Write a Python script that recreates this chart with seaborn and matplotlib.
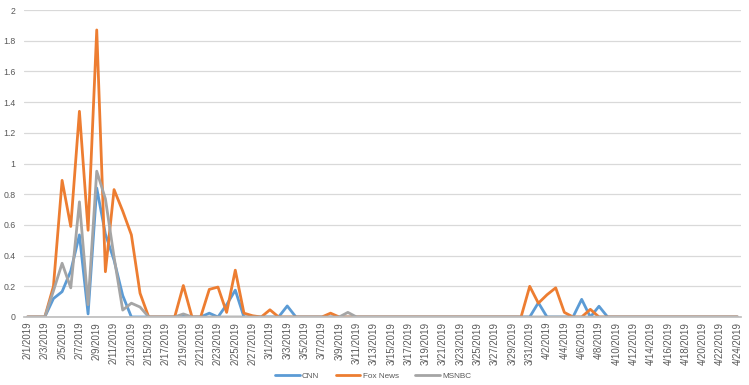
import numpy as np
import pandas as pd
import matplotlib
matplotlib.use("Agg")
import matplotlib.pyplot as plt
import seaborn as sns

dates = pd.date_range("2019-02-01", "2019-04-24", freq="D")
date_labels = [f"{d.month}/{d.day}/{d.year}" for d in dates]
n = len(dates)

def series(points):
    v = [0.0] * n
    for i, val in points.items():
        v[i] = val
    return v

cnn = series({3: 0.12, 4: 0.165, 5: 0.3, 6: 0.535, 7: 0.02, 8: 0.84, 9: 0.54, 10: 0.37,
              11: 0.14, 18: 0.01, 21: 0.025, 23: 0.08, 24: 0.175, 30: 0.072,
              59: 0.093, 64: 0.115, 66: 0.07})
fox = series({3: 0.2, 4: 0.89, 5: 0.59, 6: 1.34, 7: 0.565, 8: 1.87, 9: 0.295, 10: 0.83,
              11: 0.69, 12: 0.535, 13: 0.155, 18: 0.205, 21: 0.18, 22: 0.195, 23: 0.03,
              24: 0.305, 25: 0.025, 26: 0.008, 28: 0.047, 35: 0.025,
              58: 0.2, 59: 0.09, 60: 0.145, 61: 0.19, 62: 0.03, 65: 0.05})
msnbc = series({3: 0.17, 4: 0.35, 5: 0.19, 6: 0.75, 7: 0.08, 8: 0.95, 9: 0.77, 10: 0.39,
                11: 0.045, 12: 0.09, 13: 0.065, 18: 0.02, 37: 0.03})

networks = ["CNN", "Fox News", "MSNBC"]
colors = ["#5B9BD5", "#ED7D31", "#A5A5A5"]

df = pd.DataFrame({
    "day": list(range(n)) * 3,
    "value": cnn + fox + msnbc,
    "network": sum([[k] * n for k in networks], []),
})

sns.set_theme(style="white")
plt.rcParams["font.family"] = ["Liberation Sans", "DejaVu Sans"]

fig = plt.figure(figsize=(7.49, 3.85), dpi=100)
ax = fig.add_axes([24 / 749, 1 - 317 / 385, (741 - 24) / 749, (317 - 10) / 385])

sns.lineplot(data=df, x="day", y="value", hue="network", hue_order=networks,
             palette=dict(zip(networks, colors)), linewidth=2.0, ax=ax, legend=True)

ax.set_xlim(-0.4, 82.4)
ax.set_ylim(0, 2)
ax.set_yticks(np.arange(0, 2.01, 0.2))
ax.set_yticklabels(["0"] + [f"{v:g}" for v in np.arange(0.2, 2.01, 0.2)])
ax.set_xticks(range(0, n, 2))
ax.set_xticklabels(date_labels[::2], rotation=90)
ax.set_xticks(np.arange(-0.4, n, 2), minor=True)
ax.tick_params(axis="y", labelsize=6.3, colors="#595959", length=0, pad=6)
ax.tick_params(axis="x", which="major", labelsize=6.9, colors="#595959", length=0, pad=3.5)
ax.tick_params(axis="x", which="minor", length=3.5, color="#BFBFBF", width=0.8)
ax.grid(axis="y", color="#D9D9D9", linewidth=0.9)
ax.set_axisbelow(True)
for s in ["top", "right", "left"]:
    ax.spines[s].set_visible(False)
ax.spines["bottom"].set_color("#BFBFBF")
ax.set_xlabel("")
ax.set_ylabel("")

handles, labels = ax.get_legend_handles_labels()
ax.legend(handles, labels, loc="center", bbox_to_anchor=(373 / 749, 1 - 376 / 385),
          bbox_transform=fig.transFigure, ncol=3, frameon=False, fontsize=5.9,
          handlelength=3.0, columnspacing=2.0, handletextpad=0.3, labelcolor="#595959")

fig.savefig("out.png", dpi=100)
